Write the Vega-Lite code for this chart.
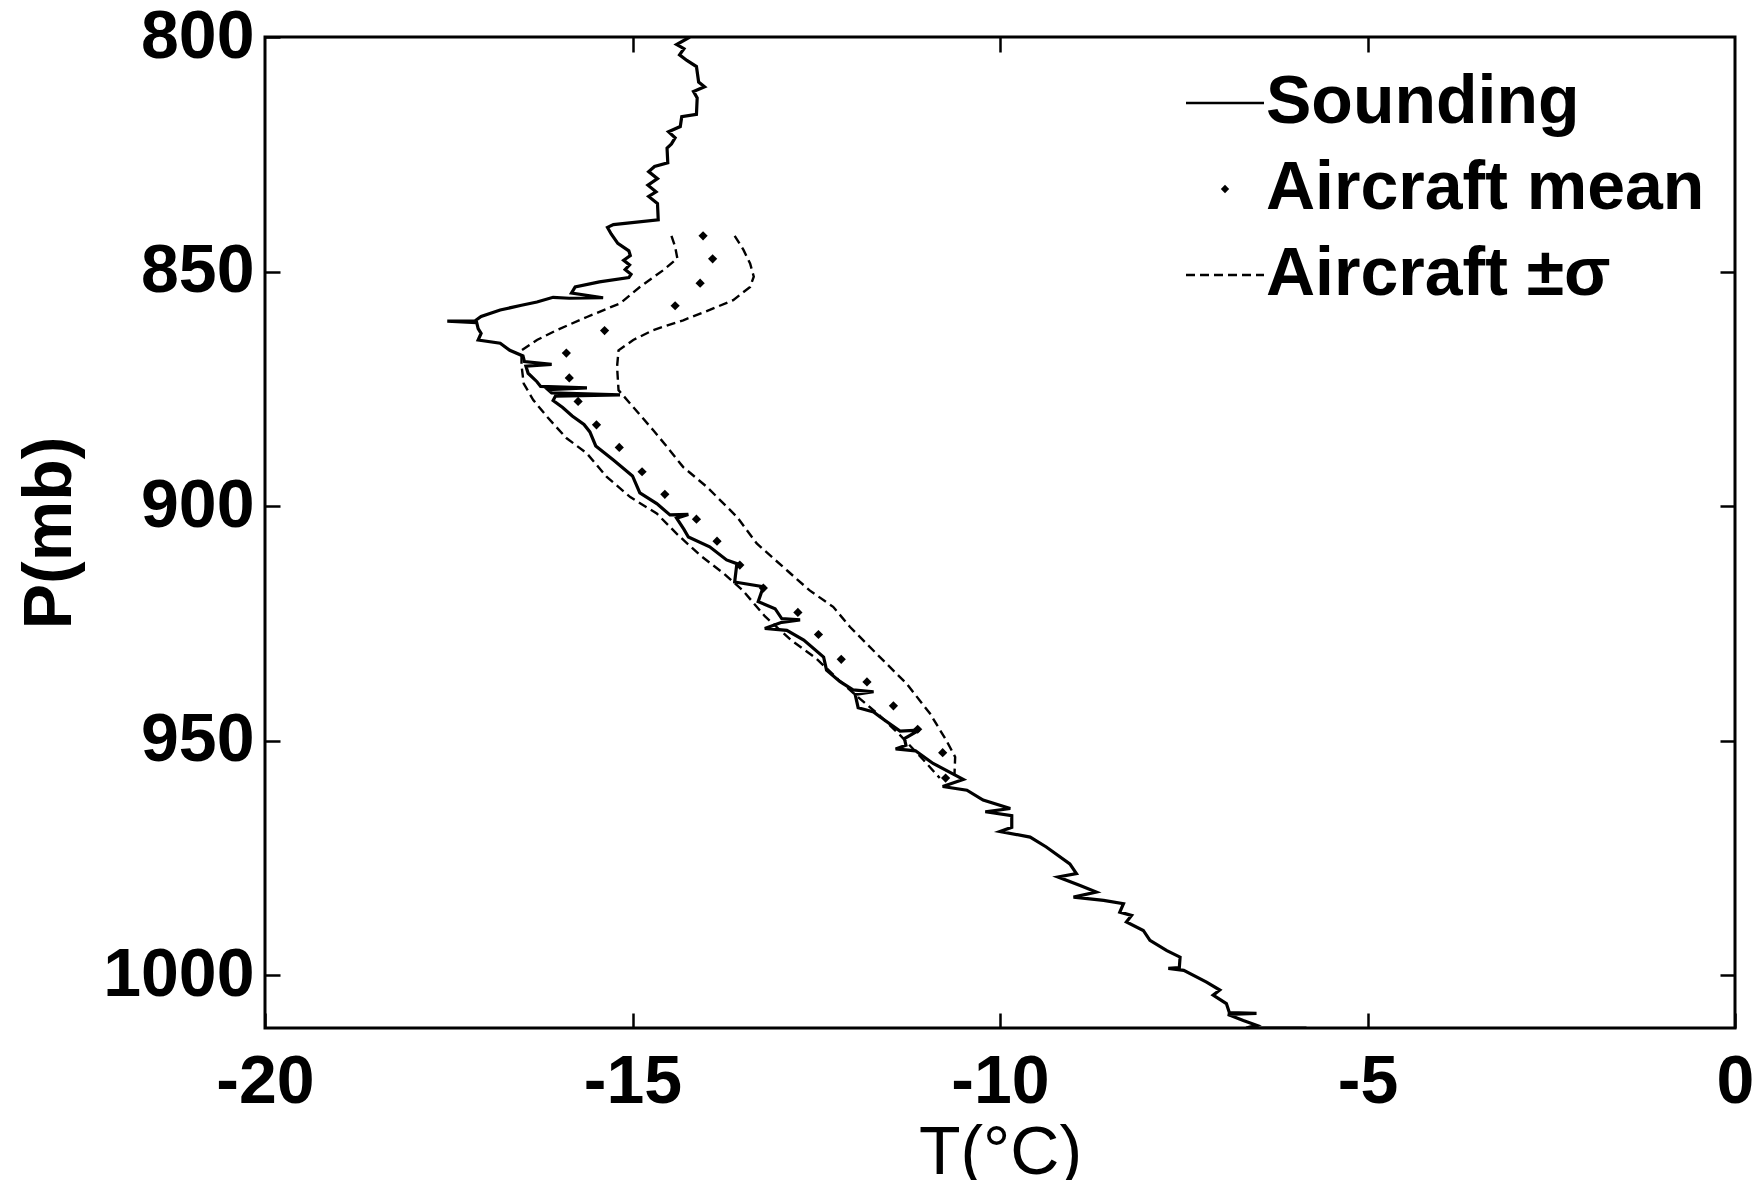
{
  "$schema": "https://vega.github.io/schema/vega-lite/v6.json",
  "width": 1470,
  "height": 991,
  "autosize": {"type": "none"},
  "padding": {"left": 265, "top": 37, "right": 26, "bottom": 152},
  "background": "white",
  "config": {
    "view": {"stroke": "black", "strokeWidth": 3},
    "font": "Liberation Sans",
    "axis": {
      "domain": false,
      "grid": false,
      "tickColor": "black",
      "tickWidth": 2.5,
      "tickSize": -15,
      "labelFlush": false,
      "labelOverlap": false,
      "labelFont": "Liberation Sans",
      "labelFontSize": 68,
      "labelFontWeight": "bold",
      "labelColor": "black",
      "titleFont": "Liberation Sans",
      "titleFontSize": 68,
      "titleColor": "black"
    }
  },
  "datasets": {
    "sounding": [
      {"i": 1, "T": -14.22, "P": 800.0}, {"i": 2, "T": -14.40, "P": 801.6}, {"i": 3, "T": -14.30, "P": 802.5},
      {"i": 4, "T": -14.36, "P": 803.8}, {"i": 5, "T": -14.26, "P": 805.0}, {"i": 6, "T": -14.13, "P": 806.3},
      {"i": 7, "T": -14.10, "P": 809.6}, {"i": 8, "T": -14.02, "P": 810.6}, {"i": 9, "T": -14.17, "P": 811.6},
      {"i": 10, "T": -14.12, "P": 813.0}, {"i": 11, "T": -14.13, "P": 816.5}, {"i": 12, "T": -14.33, "P": 817.0},
      {"i": 13, "T": -14.35, "P": 819.1}, {"i": 14, "T": -14.51, "P": 820.2}, {"i": 15, "T": -14.42, "P": 821.5},
      {"i": 16, "T": -14.47, "P": 822.8}, {"i": 17, "T": -14.53, "P": 823.7}, {"i": 18, "T": -14.52, "P": 826.8},
      {"i": 19, "T": -14.70, "P": 827.6}, {"i": 20, "T": -14.78, "P": 828.7}, {"i": 21, "T": -14.66, "P": 830.2},
      {"i": 22, "T": -14.79, "P": 831.6}, {"i": 23, "T": -14.68, "P": 833.0}, {"i": 24, "T": -14.78, "P": 834.0},
      {"i": 25, "T": -14.66, "P": 835.5}, {"i": 26, "T": -14.65, "P": 839.0}, {"i": 27, "T": -15.26, "P": 840.0},
      {"i": 28, "T": -15.34, "P": 840.6}, {"i": 29, "T": -15.29, "P": 842.0}, {"i": 30, "T": -15.20, "P": 844.0},
      {"i": 31, "T": -15.05, "P": 845.6}, {"i": 32, "T": -15.03, "P": 846.6}, {"i": 33, "T": -15.12, "P": 847.6},
      {"i": 34, "T": -15.04, "P": 848.6}, {"i": 35, "T": -15.10, "P": 849.6}, {"i": 36, "T": -15.02, "P": 850.6},
      {"i": 37, "T": -15.05, "P": 851.3}, {"i": 38, "T": -15.45, "P": 852.2}, {"i": 39, "T": -15.78, "P": 853.3},
      {"i": 40, "T": -15.83, "P": 854.6}, {"i": 41, "T": -15.40, "P": 855.6}, {"i": 42, "T": -15.86, "P": 855.7},
      {"i": 43, "T": -16.08, "P": 855.5}, {"i": 44, "T": -16.30, "P": 856.5}, {"i": 45, "T": -16.51, "P": 857.2},
      {"i": 46, "T": -16.80, "P": 858.2}, {"i": 47, "T": -17.06, "P": 859.6}, {"i": 48, "T": -17.14, "P": 860.5},
      {"i": 49, "T": -17.52, "P": 860.6}, {"i": 50, "T": -17.12, "P": 860.9}, {"i": 51, "T": -17.10, "P": 862.2},
      {"i": 52, "T": -17.06, "P": 863.2}, {"i": 53, "T": -17.10, "P": 864.6}, {"i": 54, "T": -16.80, "P": 865.3},
      {"i": 55, "T": -16.67, "P": 866.8}, {"i": 56, "T": -16.49, "P": 868.0}, {"i": 57, "T": -16.47, "P": 869.2},
      {"i": 58, "T": -16.10, "P": 869.8}, {"i": 59, "T": -16.45, "P": 870.2}, {"i": 60, "T": -16.42, "P": 871.7},
      {"i": 61, "T": -16.30, "P": 873.5}, {"i": 62, "T": -16.25, "P": 874.5}, {"i": 63, "T": -15.62, "P": 874.8},
      {"i": 64, "T": -16.15, "P": 875.2}, {"i": 65, "T": -16.10, "P": 875.9}, {"i": 66, "T": -15.17, "P": 876.3},
      {"i": 67, "T": -16.05, "P": 876.6}, {"i": 68, "T": -16.08, "P": 877.5}, {"i": 69, "T": -15.95, "P": 879.0},
      {"i": 70, "T": -15.82, "P": 880.8}, {"i": 71, "T": -15.66, "P": 882.6}, {"i": 72, "T": -15.58, "P": 884.2},
      {"i": 73, "T": -15.50, "P": 887.2}, {"i": 74, "T": -15.26, "P": 890.2}, {"i": 75, "T": -15.00, "P": 893.6},
      {"i": 76, "T": -14.90, "P": 897.2}, {"i": 77, "T": -14.67, "P": 899.5}, {"i": 78, "T": -14.49, "P": 901.9},
      {"i": 79, "T": -14.24, "P": 901.8}, {"i": 80, "T": -14.40, "P": 902.6}, {"i": 81, "T": -14.30, "P": 905.0},
      {"i": 82, "T": -14.24, "P": 906.6}, {"i": 83, "T": -13.95, "P": 908.7}, {"i": 84, "T": -13.72, "P": 911.5},
      {"i": 85, "T": -13.58, "P": 912.3}, {"i": 86, "T": -13.61, "P": 916.2}, {"i": 87, "T": -13.22, "P": 917.2},
      {"i": 88, "T": -13.29, "P": 920.4}, {"i": 89, "T": -13.06, "P": 921.9}, {"i": 90, "T": -12.97, "P": 924.0},
      {"i": 91, "T": -12.72, "P": 924.3}, {"i": 92, "T": -12.97, "P": 924.8}, {"i": 93, "T": -13.20, "P": 926.1},
      {"i": 94, "T": -12.90, "P": 926.5}, {"i": 95, "T": -12.67, "P": 928.6}, {"i": 96, "T": -12.40, "P": 932.2},
      {"i": 97, "T": -12.36, "P": 935.0}, {"i": 98, "T": -12.18, "P": 937.4}, {"i": 99, "T": -12.00, "P": 939.2},
      {"i": 100, "T": -11.72, "P": 939.6}, {"i": 101, "T": -11.97, "P": 940.2}, {"i": 102, "T": -11.93, "P": 943.0},
      {"i": 103, "T": -11.72, "P": 943.9}, {"i": 104, "T": -11.63, "P": 945.0}, {"i": 105, "T": -11.36, "P": 948.0},
      {"i": 106, "T": -11.10, "P": 947.8}, {"i": 107, "T": -11.30, "P": 949.6}, {"i": 108, "T": -11.28, "P": 951.0},
      {"i": 109, "T": -11.42, "P": 951.8}, {"i": 110, "T": -11.15, "P": 952.2}, {"i": 111, "T": -10.91, "P": 954.9},
      {"i": 112, "T": -10.50, "P": 958.3}, {"i": 113, "T": -10.78, "P": 959.8}, {"i": 114, "T": -10.45, "P": 960.6},
      {"i": 115, "T": -10.23, "P": 962.7}, {"i": 116, "T": -9.86, "P": 964.5}, {"i": 117, "T": -10.20, "P": 965.2},
      {"i": 118, "T": -9.84, "P": 966.0}, {"i": 119, "T": -9.84, "P": 968.5}, {"i": 120, "T": -10.00, "P": 969.4},
      {"i": 121, "T": -9.59, "P": 970.6}, {"i": 122, "T": -9.37, "P": 972.7}, {"i": 123, "T": -9.05, "P": 976.3},
      {"i": 124, "T": -8.96, "P": 978.4}, {"i": 125, "T": -9.21, "P": 979.1}, {"i": 126, "T": -8.91, "P": 980.9},
      {"i": 127, "T": -8.69, "P": 982.3}, {"i": 128, "T": -9.00, "P": 983.4}, {"i": 129, "T": -8.59, "P": 984.1},
      {"i": 130, "T": -8.32, "P": 984.8}, {"i": 131, "T": -8.37, "P": 986.6}, {"i": 132, "T": -8.21, "P": 987.3},
      {"i": 133, "T": -8.28, "P": 988.7}, {"i": 134, "T": -8.05, "P": 990.5}, {"i": 135, "T": -7.96, "P": 992.6},
      {"i": 136, "T": -7.73, "P": 994.8}, {"i": 137, "T": -7.55, "P": 996.2}, {"i": 138, "T": -7.56, "P": 998.4},
      {"i": 139, "T": -7.71, "P": 998.6}, {"i": 140, "T": -7.50, "P": 999.0}, {"i": 141, "T": -7.19, "P": 1001.5},
      {"i": 142, "T": -7.01, "P": 1003.2}, {"i": 143, "T": -7.10, "P": 1004.3}, {"i": 144, "T": -6.92, "P": 1006.1},
      {"i": 145, "T": -6.88, "P": 1008.0}, {"i": 146, "T": -6.51, "P": 1008.2}, {"i": 147, "T": -6.90, "P": 1008.4},
      {"i": 148, "T": -6.69, "P": 1009.7}, {"i": 149, "T": -6.51, "P": 1010.7}, {"i": 150, "T": -6.65, "P": 1011.3},
      {"i": 151, "T": -5.83, "P": 1011.3}
    ],
    "aircraft_mean": [
      {"T": -14.04, "P": 842.4}, {"T": -13.91, "P": 847.3}, {"T": -14.08, "P": 852.5}, {"T": -14.42, "P": 857.3},
      {"T": -15.38, "P": 862.6}, {"T": -15.90, "P": 867.4}, {"T": -15.86, "P": 872.7}, {"T": -15.74, "P": 877.7},
      {"T": -15.49, "P": 882.7}, {"T": -15.18, "P": 887.5}, {"T": -14.87, "P": 892.7}, {"T": -14.56, "P": 897.5},
      {"T": -14.13, "P": 902.8}, {"T": -13.85, "P": 907.5}, {"T": -13.54, "P": 912.6}, {"T": -13.22, "P": 917.5},
      {"T": -12.75, "P": 922.7}, {"T": -12.47, "P": 927.4}, {"T": -12.16, "P": 932.7}, {"T": -11.81, "P": 937.5},
      {"T": -11.45, "P": 942.6}, {"T": -11.12, "P": 947.6}, {"T": -10.78, "P": 952.6}, {"T": -10.74, "P": 958.0}
    ],
    "aircraft_sigma": [
      {"side": "lower", "T": -14.47, "P": 842.4}, {"side": "lower", "T": -14.42, "P": 844.7},
      {"side": "lower", "T": -14.39, "P": 847.2}, {"side": "lower", "T": -14.58, "P": 849.7},
      {"side": "lower", "T": -14.90, "P": 853.3}, {"side": "lower", "T": -15.17, "P": 856.8},
      {"side": "lower", "T": -15.62, "P": 859.7}, {"side": "lower", "T": -16.03, "P": 862.5},
      {"side": "lower", "T": -16.30, "P": 864.6}, {"side": "lower", "T": -16.51, "P": 866.8},
      {"side": "lower", "T": -16.51, "P": 870.0}, {"side": "lower", "T": -16.48, "P": 873.9},
      {"side": "lower", "T": -16.35, "P": 877.4}, {"side": "lower", "T": -16.15, "P": 881.2},
      {"side": "lower", "T": -15.90, "P": 885.5}, {"side": "lower", "T": -15.62, "P": 888.8},
      {"side": "lower", "T": -15.35, "P": 893.8}, {"side": "lower", "T": -15.03, "P": 898.1},
      {"side": "lower", "T": -14.67, "P": 901.6}, {"side": "lower", "T": -14.40, "P": 905.9},
      {"side": "lower", "T": -14.08, "P": 910.5}, {"side": "lower", "T": -13.75, "P": 914.5},
      {"side": "lower", "T": -13.50, "P": 918.0}, {"side": "lower", "T": -13.20, "P": 923.5},
      {"side": "lower", "T": -12.85, "P": 928.5}, {"side": "lower", "T": -12.50, "P": 932.5},
      {"side": "lower", "T": -12.20, "P": 937.0}, {"side": "lower", "T": -11.95, "P": 940.5},
      {"side": "lower", "T": -11.65, "P": 944.5}, {"side": "lower", "T": -11.35, "P": 949.0},
      {"side": "lower", "T": -11.05, "P": 954.0}, {"side": "lower", "T": -10.82, "P": 958.0},
      {"side": "upper", "T": -13.61, "P": 842.4}, {"side": "upper", "T": -13.49, "P": 845.4},
      {"side": "upper", "T": -13.40, "P": 848.3}, {"side": "upper", "T": -13.35, "P": 851.1},
      {"side": "upper", "T": -13.40, "P": 853.3}, {"side": "upper", "T": -13.63, "P": 856.1},
      {"side": "upper", "T": -13.95, "P": 858.2}, {"side": "upper", "T": -14.31, "P": 860.4},
      {"side": "upper", "T": -14.72, "P": 862.5}, {"side": "upper", "T": -14.99, "P": 864.6},
      {"side": "upper", "T": -15.19, "P": 866.8}, {"side": "upper", "T": -15.21, "P": 870.3},
      {"side": "upper", "T": -15.19, "P": 875.3}, {"side": "upper", "T": -14.99, "P": 878.9},
      {"side": "upper", "T": -14.72, "P": 883.8}, {"side": "upper", "T": -14.53, "P": 887.4},
      {"side": "upper", "T": -14.31, "P": 891.7}, {"side": "upper", "T": -13.99, "P": 895.9},
      {"side": "upper", "T": -13.58, "P": 902.3}, {"side": "upper", "T": -13.31, "P": 908.0},
      {"side": "upper", "T": -12.90, "P": 913.7}, {"side": "upper", "T": -12.59, "P": 918.0},
      {"side": "upper", "T": -12.27, "P": 921.5}, {"side": "upper", "T": -12.04, "P": 925.8},
      {"side": "upper", "T": -11.68, "P": 931.5}, {"side": "upper", "T": -11.27, "P": 937.9},
      {"side": "upper", "T": -10.95, "P": 944.3}, {"side": "upper", "T": -10.73, "P": 950.0},
      {"side": "upper", "T": -10.61, "P": 953.5}, {"side": "upper", "T": -10.62, "P": 957.5}
    ]
  },
  "resolve": {"axis": {"x": "independent", "y": "independent"}},
  "layer": [
    {
      "data": {"name": "sounding"},
      "mark": {"type": "line", "strokeWidth": 3.2, "clip": true},
      "encoding": {
        "x": {
          "field": "T", "type": "quantitative",
          "scale": {"domain": [-20, 0], "nice": false, "zero": false},
          "axis": {
            "orient": "bottom",
            "values": [-20, -15, -10, -5, 0],
            "labelExpr": "'' + datum.value",
            "labelPadding": 35,
            "title": "T(°C)",
            "titleFontWeight": "normal",
            "titleBaseline": "alphabetic",
            "titleY": 145
          }
        },
        "y": {
          "field": "P", "type": "quantitative",
          "scale": {"domain": [800, 1011.3], "reverse": true, "nice": false, "zero": false},
          "axis": {
            "orient": "left",
            "values": [800, 850, 900, 950, 1000],
            "labelExpr": "'' + datum.value",
            "labelPadding": 26,
            "title": "P(mb)",
            "titleFontWeight": "bold",
            "titleBaseline": "alphabetic",
            "titleX": -195
          }
        },
        "order": {"field": "i", "type": "quantitative"},
        "color": {
          "datum": "Sounding",
          "type": "nominal",
          "scale": {"domain": ["Sounding", "Aircraft mean", "Aircraft ±σ"], "range": ["black", "black", "black"]},
          "legend": {
            "title": null,
            "orient": "none",
            "legendX": 926,
            "legendY": 32,
            "padding": 0,
            "offset": 0,
            "labelFont": "Liberation Sans",
            "labelFontSize": 68,
            "labelFontWeight": "bold",
            "labelColor": "black",
            "labelLimit": 0,
            "labelOffset": 7,
            "rowPadding": 18,
            "symbolType": "stroke",
            "symbolSize": 6084,
            "symbolStrokeWidth": 2.8,
            "symbolStrokeColor": "black",
            "encode": {
              "symbols": {
                "update": {
                  "shape": {"signal": "datum.value === 'Aircraft mean' ? 'diamond' : 'stroke'"},
                  "size": {"signal": "datum.value === 'Aircraft mean' ? 70 : 6084"},
                  "fill": {"signal": "datum.value === 'Aircraft mean' ? 'black' : 'transparent'"},
                  "stroke": {"value": "black"},
                  "strokeWidth": {"signal": "datum.value === 'Aircraft mean' ? 0 : 2.6"},
                  "strokeDash": {"signal": "datum.value === 'Aircraft ±σ' ? [9, 5] : []"}
                }
              }
            }
          }
        }
      }
    },
    {
      "data": {"name": "aircraft_sigma"},
      "mark": {"type": "line", "strokeWidth": 2.4, "strokeDash": [9, 5]},
      "encoding": {
        "x": {"field": "T", "type": "quantitative", "axis": null},
        "y": {"field": "P", "type": "quantitative", "axis": null},
        "detail": {"field": "side", "type": "nominal"},
        "order": {"field": "P", "type": "quantitative"},
        "color": {"datum": "Aircraft ±σ", "type": "nominal"}
      }
    },
    {
      "data": {"name": "aircraft_mean"},
      "mark": {"type": "point", "shape": "diamond", "filled": true, "size": 85, "opacity": 1},
      "encoding": {
        "x": {
          "field": "T", "type": "quantitative",
          "axis": {"orient": "top", "labels": false, "title": null, "values": [-15, -10, -5]}
        },
        "y": {
          "field": "P", "type": "quantitative",
          "axis": {"orient": "right", "labels": false, "title": null, "values": [850, 900, 950, 1000]}
        },
        "color": {"datum": "Aircraft mean", "type": "nominal"}
      }
    }
  ]
}
